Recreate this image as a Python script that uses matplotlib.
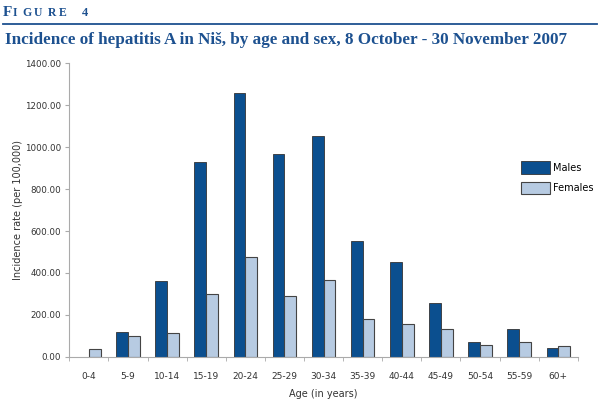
import numpy as np
import matplotlib
matplotlib.use('Agg')
import matplotlib.pyplot as plt
from matplotlib.lines import Line2D

# Datos
grupos = ['0-4', '5-9', '10-14', '15-19', '20-24', '25-29', '30-34',
          '35-39', '40-44', '45-49', '50-54', '55-59', '60+']
hombres = [0, 120, 362, 930, 1258, 970, 1055, 554, 450, 255, 70, 132, 42]
mujeres = [38, 97, 113, 298, 474, 292, 366, 181, 156, 132, 57, 70, 53]

azul = '#0b4f8f'
celeste = '#b7cbe2'
titulo_color = '#1d5190'

fig = plt.figure(figsize=(6, 3.99), dpi=100)
ax = fig.add_axes([0.1155, 0.106, 0.8475, 0.735])

x = np.arange(len(grupos))
w = 0.3
ax.bar(x - w / 2, hombres, w, color=azul, edgecolor='#333333', linewidth=0.6, label='Males')
ax.bar(x + w / 2, mujeres, w, color=celeste, edgecolor='#444444', linewidth=0.8, label='Females')

ax.set_xlim(-0.5, len(grupos) - 0.5)
ax.set_ylim(0, 1400)
ax.set_yticks(np.arange(0, 1401, 200))
ax.set_yticklabels(['%.2f' % v for v in np.arange(0, 1401, 200)])
ax.set_xticks(x)
ax.set_xticklabels(grupos)
ax.set_xticks(np.arange(-0.5, len(grupos), 1), minor=True)
ax.tick_params(axis='x', which='major', length=0, pad=11, labelsize=6.5, colors='#333333')
ax.tick_params(axis='x', which='minor', length=3, color='#aaaaaa', direction='out')
ax.tick_params(axis='y', length=3, color='#aaaaaa', labelsize=6.3, colors='#333333', pad=3)

for s in ['top', 'right']:
    ax.spines[s].set_visible(False)
ax.spines['left'].set_color('#aaaaaa')
ax.spines['bottom'].set_color('#aaaaaa')

ax.set_xlabel('Age (in years)', fontsize=7, color='#333333', labelpad=6)
ax.set_ylabel('Incidence rate (per 100,000)', fontsize=7, color='#333333', labelpad=1)

leg = ax.legend(loc='upper left', bbox_to_anchor=(0.88, 0.68), frameon=False,
                fontsize=7, handlelength=3.0, handleheight=1.6, labelspacing=0.85,
                handletextpad=0.3, borderaxespad=0)

# Encabezado: "FIGURE 4" en versalitas, letra por letra
letras = ['F', 'I', 'G', 'U', 'R', 'E', '4']
pos_x = [3, 13, 22, 34, 48, 59, 82]
tamanos = [11, 8.5, 8.5, 8.5, 8.5, 8.5, 9]
for letra, px, t in zip(letras, pos_x, tamanos):
    fig.text(px / 600, 1 - 16 / 399, letra, fontsize=t, fontweight='bold',
             color=titulo_color, family='Liberation Serif', va='baseline')
fig.add_artist(Line2D([0.005, 0.995], [0.941, 0.941], color=titulo_color, linewidth=1.3))
fig.text(0.008, 0.9, 'Incidence of hepatitis A in Niš, by age and sex, 8 October - 30 November 2007',
         fontsize=12.3, fontweight='bold', color=titulo_color, family='Liberation Serif', va='center')

plt.savefig('out.png', dpi=100)
